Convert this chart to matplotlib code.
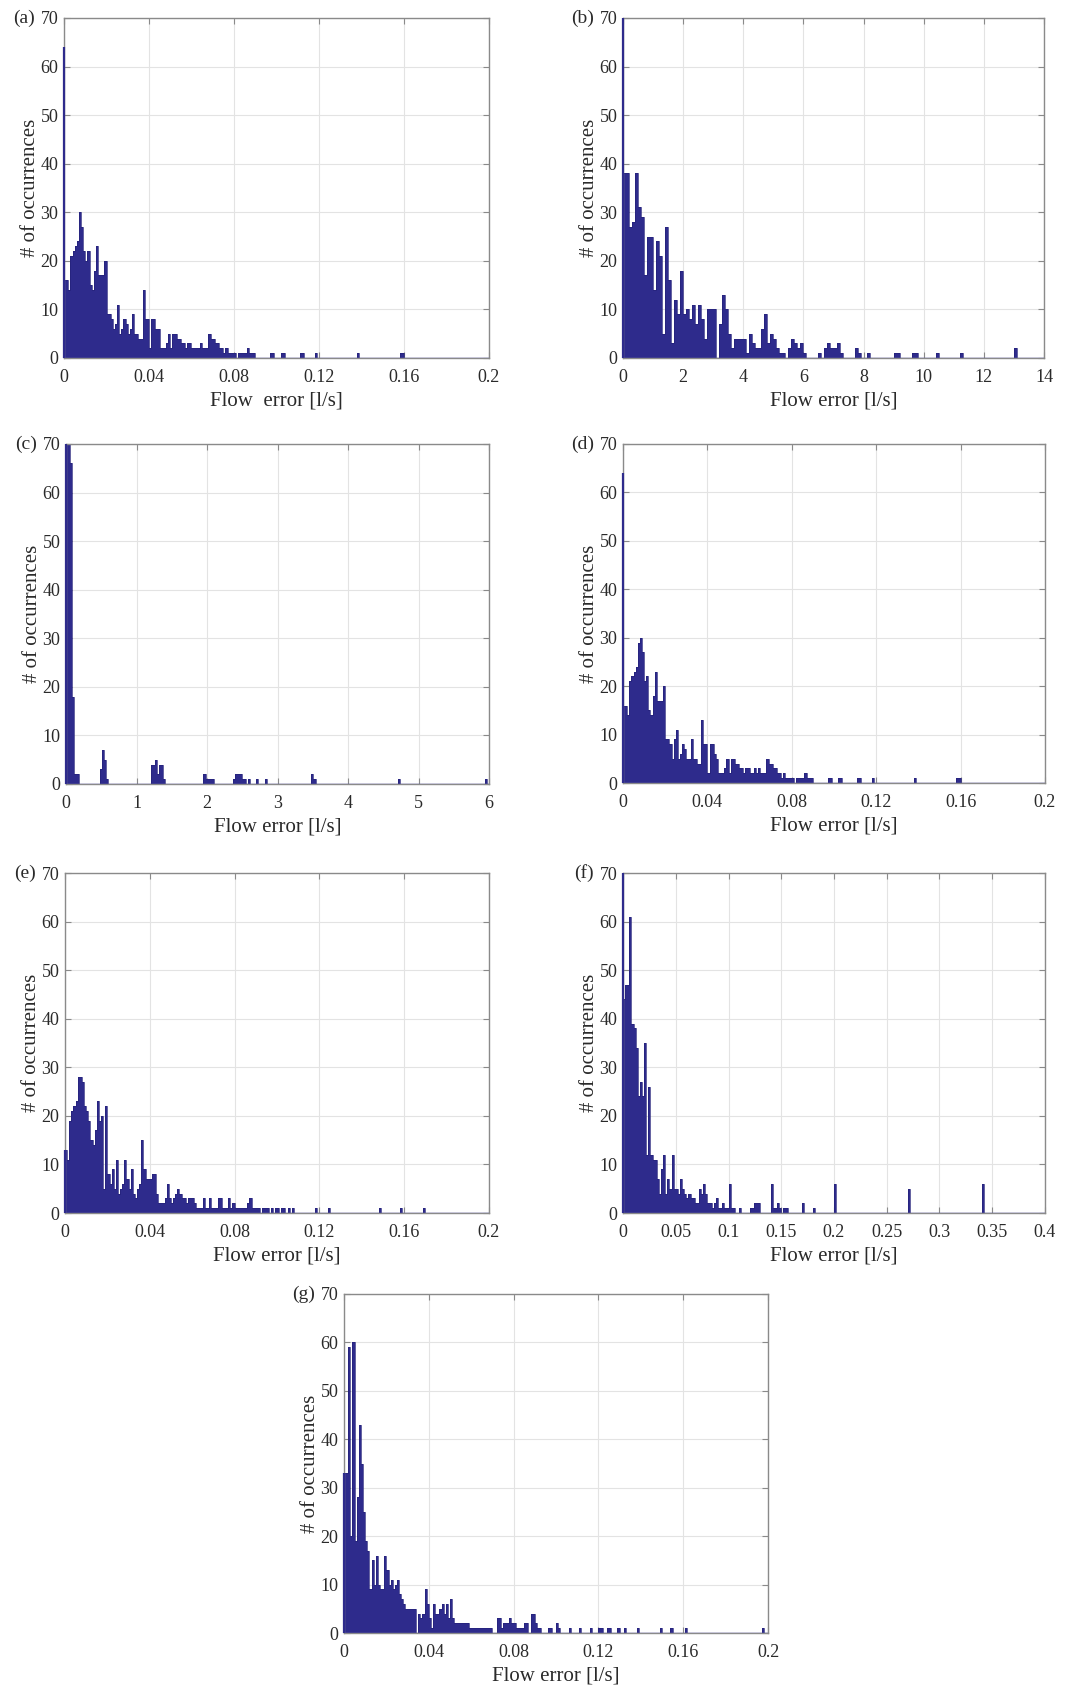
import numpy as np
import matplotlib
matplotlib.use('Agg')
import matplotlib.pyplot as plt

plt.rcParams['font.family'] = ['Liberation Serif', 'DejaVu Serif']

# ---------------- data (histogram counts) ----------------
# (a)
bw_a = 0.001
zero_a = 64
n_a = [16, 16, 14, 21, 22, 23, 24, 30, 27, 22,
       20, 22, 15, 14, 18, 23, 17, 17, 17, 20,
       9, 9, 8, 6, 7, 11, 5, 6, 8, 7,
       5, 6, 9, 5, 5, 4, 4, 14, 8, 8,
       2, 8, 8, 6, 6, 2, 2, 2, 3, 5,
       2, 5, 5, 4, 4, 3, 3, 2, 3, 3,
       2, 2, 2, 2, 3, 2, 2, 2, 5, 4,
       4, 3, 3, 2, 2, 1, 2, 1, 1, 1,
       1, 0, 1, 1, 1, 1, 2, 1, 1, 1]
tail_a_x = [0.0975, 0.0985, 0.1025, 0.1035, 0.1115, 0.1125, 0.1185, 0.1385, 0.1585, 0.1595]
tail_a_n = [1, 1, 1, 1, 1, 1, 1, 1, 1, 1]

# (b)
bw_b = 0.1
zero_b = 70
n_b = [38, 38, 27, 28, 38, 31, 29, 17, 25, 25,
       14, 24, 21, 5, 27, 16, 3, 12, 9, 18,
       9, 10, 8, 11, 7, 11, 8, 4, 10, 10,
       10, 0, 7, 13, 10, 5, 2, 4, 4, 4,
       4, 1, 5, 3, 2, 2, 6, 9, 3, 5,
       4, 2, 1, 1, 0, 2, 4, 3, 2, 3,
       1, 0]
tail_b_x = [6.55, 6.75, 6.85, 6.95, 7.05, 7.15, 7.25, 7.75, 7.85, 8.15,
            9.05, 9.15, 9.65, 9.75, 10.45, 11.25, 13.05]
tail_b_n = [1, 2, 3, 2, 2, 3, 1, 2, 1, 1,
            1, 1, 1, 1, 1, 1, 2]

# (c)
bw_c = 0.03
zero_c = 70
n_c = [70, 70, 66, 18, 2, 2]
tail_c_x = [0.495, 0.525, 0.555, 0.585,
            1.215, 1.245, 1.275, 1.305, 1.335, 1.365, 1.395,
            1.965, 1.995, 2.025, 2.055, 2.085,
            2.385, 2.415, 2.445, 2.475, 2.505, 2.535,
            2.595, 2.715, 2.835, 3.495, 3.525, 4.725, 5.955]
tail_c_n = [3, 7, 5, 1,
            4, 4, 5, 2, 4, 4, 1,
            2, 1, 1, 1, 1,
            1, 2, 2, 2, 1, 1,
            1, 1, 1, 2, 1, 1, 1]

# (d)
bw_d = 0.001
zero_d = 64
n_d = [16, 16, 14, 21, 22, 23, 24, 29, 30, 27,
       21, 22, 15, 14, 18, 23, 17, 17, 17, 20,
       9, 9, 8, 5, 9, 11, 5, 6, 8, 7,
       5, 5, 9, 5, 5, 4, 4, 13, 8, 8,
       2, 8, 8, 6, 5, 2, 2, 2, 3, 5,
       2, 5, 5, 4, 4, 3, 3, 2, 3, 3,
       2, 2, 3, 2, 3, 2, 2, 2, 5, 4,
       4, 3, 3, 2, 2, 1, 2, 1, 1, 1,
       1, 0, 1, 1, 1, 1, 2, 1, 1, 1]
tail_d_x = [0.0975, 0.0985, 0.1025, 0.1035, 0.1115, 0.1125, 0.1185, 0.1385, 0.1585, 0.1595]
tail_d_n = [1, 1, 1, 1, 1, 1, 1, 1, 1, 1]

# (e)
bw_e = 0.001
zero_e = 13
n_e = [13, 11, 19, 21, 22, 23, 28, 28, 27, 22,
       21, 19, 15, 14, 17, 23, 19, 20, 5, 22,
       8, 6, 9, 5, 11, 4, 5, 6, 11, 7,
       5, 9, 4, 3, 5, 6, 15, 9, 7, 7,
       7, 8, 8, 4, 2, 2, 2, 3, 6, 3,
       2, 3, 4, 5, 4, 3, 3, 2, 3, 3,
       3, 2, 1, 1, 1, 3, 1, 1, 3, 1,
       1, 1, 3, 3, 1, 1, 1, 3, 1, 2,
       1, 1, 1, 1, 1, 1, 2, 3, 1, 1,
       1, 1, 0, 1, 1, 1, 0, 1, 0, 1,
       1, 0, 1, 1, 0, 1, 0, 1]
tail_e_x = [0.1185, 0.1245, 0.1485, 0.1585, 0.1695]
tail_e_n = [1, 1, 1, 1, 1]

# (f)
bw_f = 0.002
zero_f = 70
n_f = [44, 47, 47, 61, 39, 38, 34, 24, 27, 24,
       35, 12, 26, 12, 11, 11, 7, 4, 9, 12,
       4, 7, 5, 12, 5, 5, 4, 7, 5, 4,
       3, 4, 3, 3, 2, 2, 5, 4, 6, 4,
       2, 2, 1, 2, 3, 1, 1, 2, 1, 1,
       6, 1, 1]
tail_f_x = [0.111, 0.121, 0.123, 0.125, 0.127, 0.129, 0.141, 0.143, 0.145, 0.147,
            0.149, 0.153, 0.155, 0.171, 0.181, 0.201, 0.271, 0.341]
tail_f_n = [1, 1, 1, 2, 2, 2, 6, 1, 1, 2,
            1, 1, 1, 2, 1, 6, 5, 6]

# (g)
bw_g = 0.001
zero_g = 33
n_g = [33, 33, 59, 20, 60, 19, 28, 43, 35, 25,
       19, 17, 9, 15, 10, 16, 10, 9, 9, 16,
       13, 10, 11, 9, 10, 11, 8, 7, 6, 5,
       5, 5, 5, 5, 0, 4, 3, 4, 9, 6,
       3, 1, 6, 4, 4, 5, 6, 4, 6, 3,
       7, 3, 2, 2, 2, 2, 2, 2, 2, 1,
       1, 1, 1, 1, 1, 1, 1, 1, 1, 1,
       0, 0, 3, 3, 1, 2, 2, 2, 3, 2,
       2, 1, 1, 1, 1, 2, 2, 0, 4, 4,
       2, 1, 1, 0, 0, 0, 1, 1, 0, 0,
       2, 1, 0, 0, 0, 0, 1]
tail_g_x = [0.1115, 0.1165, 0.1205, 0.1215, 0.1245, 0.1255, 0.1295, 0.1325,
            0.1385, 0.1495, 0.1545, 0.1615, 0.1975]
tail_g_n = [1, 1, 1, 1, 1, 1, 1, 1, 1, 1, 1, 1, 1]

# axis settings
xmax_a, xmax_b, xmax_c, xmax_f = 0.2, 14, 6, 0.4
xt_small = [0, 0.04, 0.08, 0.12, 0.16, 0.2]
xtl_small = ['0', '0.04', '0.08', '0.12', '0.16', '0.2']
xt_b = [0, 2, 4, 6, 8, 10, 12, 14]
xtl_b = ['0', '2', '4', '6', '8', '10', '12', '14']
xt_c = [0, 1, 2, 3, 4, 5, 6]
xtl_c = ['0', '1', '2', '3', '4', '5', '6']
xt_f = [0, 0.05, 0.1, 0.15, 0.2, 0.25, 0.3, 0.35, 0.4]
xtl_f = ['0', '0.05', '0.1', '0.15', '0.2', '0.25', '0.3', '0.35', '0.4']
yt = [0, 10, 20, 30, 40, 50, 60, 70]
ylab = '# of occurrences'
xlab = 'Flow error [l/s]'
xlab_a = 'Flow  error [l/s]'

# ---------------- figure ----------------
W, H = 1083, 1691
fig = plt.figure(figsize=(W / 100, H / 100), dpi=100)

BAR = '#2e2b8c'
GRID = '#e3e3e3'
SPINE = '#8a8a8a'
TXT = '#2a2a2a'


def px_rect(x0, y0, x1, y1):
    return [x0 / W, 1 - y1 / H, (x1 - x0) / W, (y1 - y0) / H]


panels = [
    ('(a)', px_rect(64, 18, 489, 358), bw_a, zero_a, n_a, tail_a_x, tail_a_n, xmax_a, xt_small, xtl_small, xlab_a),
    ('(b)', px_rect(623, 18, 1044, 358), bw_b, zero_b, n_b, tail_b_x, tail_b_n, xmax_b, xt_b, xtl_b, xlab),
    ('(c)', px_rect(66, 444, 489, 784), bw_c, zero_c, n_c, tail_c_x, tail_c_n, xmax_c, xt_c, xtl_c, xlab),
    ('(d)', px_rect(623, 444, 1045, 783), bw_d, zero_d, n_d, tail_d_x, tail_d_n, xmax_a, xt_small, xtl_small, xlab),
    ('(e)', px_rect(65, 873, 489, 1213), bw_e, zero_e, n_e, tail_e_x, tail_e_n, xmax_a, xt_small, xtl_small, xlab),
    ('(f)', px_rect(623, 873, 1045, 1213), bw_f, zero_f, n_f, tail_f_x, tail_f_n, xmax_f, xt_f, xtl_f, xlab),
    ('(g)', px_rect(344, 1294, 768, 1633), bw_g, zero_g, n_g, tail_g_x, tail_g_n, xmax_a, xt_small, xtl_small, xlab),
]

for label, rect, bw, zero, dense, tx, tn, xmax, xt, xtl, xl in panels:
    ax = fig.add_axes(rect)
    nb = int(round(xmax / bw))
    counts = np.zeros(nb)
    counts[:len(dense)] = dense
    for x, n in zip(tx, tn):
        counts[int(x / bw)] += n
    edges = np.arange(nb + 1) * bw
    ax.stairs(counts, edges, fill=True, color=BAR, linewidth=0, zorder=2)
    ax.stairs(counts, edges, fill=False, color='#24217a', linewidth=0.5, zorder=2.1)
    ax.vlines(0, 0, zero, color=BAR, linewidth=1.6, zorder=3, clip_on=False)
    ax.axhline(0, color='#4a47a0', linewidth=1.0, zorder=3)

    ax.set_xlim(0, xmax)
    ax.set_ylim(0, 70)
    ax.set_xticks(xt)
    ax.set_xticklabels(xtl)
    ax.set_yticks(yt)
    ax.grid(True, color=GRID, linewidth=0.8)
    ax.set_axisbelow(True)
    ax.tick_params(direction='in', top=True, right=True, length=4, width=0.8,
                   color=SPINE, labelsize=13, labelcolor=TXT)
    ax.tick_params(axis='x', pad=8)
    ax.tick_params(axis='y', pad=4)
    for s in ax.spines.values():
        s.set_color(SPINE)
        s.set_linewidth(1.0)
    ax.set_xlabel(xl, fontsize=15, color=TXT, labelpad=4)
    ax.set_ylabel(ylab, fontsize=15, color=TXT, labelpad=0)
    ax.annotate(label, xy=(0, 1), xycoords='axes fraction', xytext=(-21, 0),
                textcoords='offset points', ha='right', va='center',
                fontsize=14, color=TXT)

fig.savefig('out.png', dpi=100, facecolor='white')
